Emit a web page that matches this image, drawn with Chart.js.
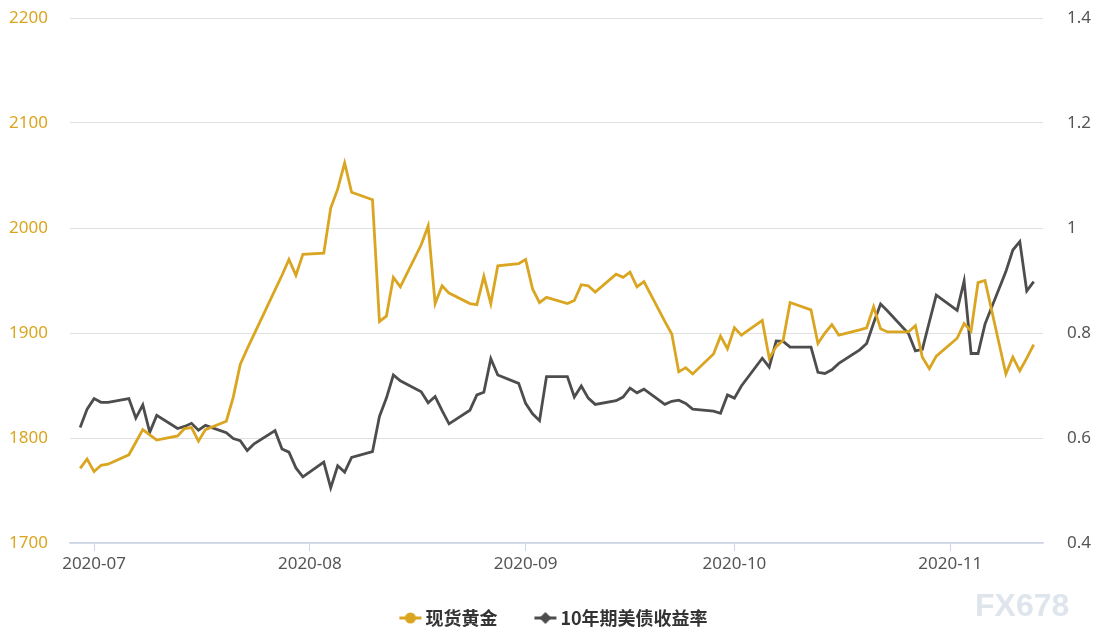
<!DOCTYPE html>
<html>
<head>
<meta charset="utf-8">
<script src="https://cdn.jsdelivr.net/npm/chart.js@4.4.0/dist/chart.umd.min.js"></script>
<style>
  html, body { margin: 0; padding: 0; background: #fff; }
  #wrap { width: 1102px; height: 640px; position: relative; }
</style>
</head>
<body>
<div id="wrap"><canvas id="chart" width="1102" height="640"></canvas></div>
<script>
// trading days, Jun 29 - Nov 13 2020
const dates = [
  '2020-06-29','2020-06-30',
  '2020-07-01','2020-07-02','2020-07-03','2020-07-06','2020-07-07','2020-07-08','2020-07-09','2020-07-10',
  '2020-07-13','2020-07-14','2020-07-15','2020-07-16','2020-07-17','2020-07-20','2020-07-21','2020-07-22',
  '2020-07-23','2020-07-24','2020-07-27','2020-07-28','2020-07-29','2020-07-30','2020-07-31',
  '2020-08-03','2020-08-04','2020-08-05','2020-08-06','2020-08-07','2020-08-10','2020-08-11','2020-08-12',
  '2020-08-13','2020-08-14','2020-08-17','2020-08-18','2020-08-19','2020-08-20','2020-08-21','2020-08-24',
  '2020-08-25','2020-08-26','2020-08-27','2020-08-28','2020-08-31',
  '2020-09-01','2020-09-02','2020-09-03','2020-09-04','2020-09-07','2020-09-08','2020-09-09','2020-09-10',
  '2020-09-11','2020-09-14','2020-09-15','2020-09-16','2020-09-17','2020-09-18','2020-09-21','2020-09-22',
  '2020-09-23','2020-09-24','2020-09-25','2020-09-28','2020-09-29','2020-09-30',
  '2020-10-01','2020-10-02','2020-10-05','2020-10-06','2020-10-07','2020-10-08','2020-10-09','2020-10-12',
  '2020-10-13','2020-10-14','2020-10-15','2020-10-16','2020-10-19','2020-10-20','2020-10-21','2020-10-22',
  '2020-10-23','2020-10-26','2020-10-27','2020-10-28','2020-10-29','2020-10-30',
  '2020-11-02','2020-11-03','2020-11-04','2020-11-05','2020-11-06','2020-11-09','2020-11-10','2020-11-11',
  '2020-11-12','2020-11-13'
];

// 现货黄金 (left axis)
const gold = [
  1771, 1780,
  1768, 1774, 1775, 1784, 1796, 1808, 1803, 1798,
  1802, 1809, 1810, 1797, 1808, 1816, 1839, 1870,
  1885, 1899, 1941, 1955, 1970, 1955, 1975,
  1976, 2019, 2037, 2062, 2034, 2027, 1911, 1916,
  1953, 1944, 1984, 2002, 1928, 1945, 1938, 1928,
  1927, 1954, 1928, 1964, 1966,
  1970, 1942, 1929, 1934, 1928, 1931, 1946, 1945,
  1939, 1956, 1953, 1958, 1944, 1949, 1911, 1899,
  1863, 1867, 1861, 1880, 1897, 1885,
  1905, 1898, 1912, 1876, 1887, 1893, 1929, 1922,
  1890, 1900, 1908, 1898, 1903, 1905, 1925, 1904,
  1901, 1901, 1907, 1877, 1866, 1878,
  1895, 1909, 1902, 1948, 1950, 1861, 1877, 1864,
  1876, 1889
];

// 10年期美债收益率 (right axis)
const yield10 = [
  0.620, 0.655,
  0.675, 0.668, 0.668, 0.675, 0.638, 0.663, 0.611, 0.643,
  0.618, 0.622, 0.628, 0.615, 0.624, 0.610, 0.599, 0.595,
  0.576, 0.589, 0.614, 0.579, 0.573, 0.543, 0.526,
  0.554, 0.505, 0.547, 0.535, 0.563, 0.574, 0.641, 0.676,
  0.720, 0.709, 0.688, 0.667, 0.679, 0.652, 0.627, 0.653,
  0.682, 0.687, 0.751, 0.720, 0.704,
  0.666, 0.646, 0.633, 0.717, 0.717, 0.678, 0.699, 0.676,
  0.664, 0.671, 0.678, 0.695, 0.686, 0.693, 0.664, 0.670,
  0.672, 0.666, 0.655, 0.651, 0.647, 0.682,
  0.676, 0.699, 0.752, 0.735, 0.785, 0.784, 0.773, 0.773,
  0.725, 0.723, 0.730, 0.742, 0.768, 0.780, 0.819, 0.855,
  0.842, 0.799, 0.766, 0.769, 0.821, 0.872,
  0.843, 0.899, 0.761, 0.761, 0.817, 0.917, 0.958, 0.974,
  0.880, 0.898
];

const monthTicks = ['2020-07-01','2020-08-01','2020-09-01','2020-10-01','2020-11-01'];
const xStart = Date.UTC(2020, 5, 27, 13);
const xEnd = Date.UTC(2020, 10, 14, 8);

const GOLD = '#DAA520';
const DARK = '#4D4D4D';

// line + marker like the original legend, shifted right inside a wider canvas
function legendIcon(color, shape) {
  const c = document.createElement('canvas');
  c.width = 44; c.height = 14;
  const g = c.getContext('2d');
  g.strokeStyle = color;
  g.lineWidth = 3;
  g.beginPath(); g.moveTo(16, 7); g.lineTo(38, 7); g.stroke();
  g.fillStyle = color;
  g.beginPath();
  if (shape === 'circle') {
    g.arc(27, 7, 5.5, 0, Math.PI * 2);
  } else {
    g.moveTo(27, 1); g.lineTo(33, 7); g.lineTo(27, 13); g.lineTo(21, 7); g.closePath();
  }
  g.fill();
  return c;
}
const icons = [legendIcon(GOLD, 'circle'), legendIcon(DARK, 'diamond')];

const watermark = {
  id: 'watermark',
  afterDraw(chart) {
    const ctx = chart.ctx;
    ctx.save();
    ctx.font = 'bold 32px "Liberation Sans", Arial, sans-serif';
    ctx.fillStyle = '#dfe5ec';
    ctx.textAlign = 'left';
    ctx.textBaseline = 'alphabetic';
    ctx.fillText('FX678', 975, 616);
    ctx.restore();
  }
};

const PLOT_BOTTOM = 543;

function noVPad(scale) {
  scale.paddingTop = 0;
  scale.paddingBottom = 0;
}

new Chart(document.getElementById('chart'), {
  type: 'line',
  data: {
    datasets: [
      {
        label: '现货黄金',
        data: dates.map((d, i) => ({ x: Date.parse(d), y: gold[i] })),
        borderColor: GOLD,
        backgroundColor: GOLD,
        borderWidth: 2.8,
        pointRadius: 0,
        tension: 0,
        yAxisID: 'y'
      },
      {
        label: '10年期美债收益率',
        data: dates.map((d, i) => ({ x: Date.parse(d), y: yield10[i] })),
        borderColor: DARK,
        backgroundColor: DARK,
        borderWidth: 2.8,
        pointRadius: 0,
        tension: 0,
        yAxisID: 'y1'
      }
    ]
  },
  options: {
    responsive: false,
    animation: false,
    layout: { padding: { top: 18, left: 0, right: 0, bottom: 3 } },
    plugins: {
      tooltip: { enabled: false },
      legend: {
        position: 'bottom',
        labels: {
          usePointStyle: true,
          pointStyleWidth: 22,
          boxHeight: 14,
          padding: 32,
          color: '#333',
          font: { family: '"Noto Sans CJK SC", "Noto Sans", sans-serif', size: 18, weight: 'bold' },
          generateLabels(chart) {
            return chart.data.datasets.map((ds, i) => ({
              text: ds.label,
              fillStyle: ds.borderColor,
              strokeStyle: ds.borderColor,
              fontColor: '#333',
              pointStyle: icons[i],
              datasetIndex: i,
              hidden: false
            }));
          }
        }
      }
    },
    scales: {
      x: {
        type: 'linear',
        min: xStart,
        max: xEnd,
        afterBuildTicks(scale) {
          scale.ticks = monthTicks.map(m => ({ value: Date.parse(m) }));
        },
        afterFit(scale) {
          const lg = scale.chart.legend ? scale.chart.legend.height : 0;
          scale.height = 640 - PLOT_BOTTOM - lg - 3;
        },
        grid: {
          drawOnChartArea: false,
          drawTicks: true,
          tickLength: 8,
          color: '#ccd6eb'
        },
        border: { color: '#ccd6eb', width: 1.5 },
        ticks: {
          color: '#555',
          font: { family: '"Noto Sans", sans-serif', size: 17 },
          padding: 3,
          maxRotation: 0,
          callback: v => new Date(v).toISOString().slice(0, 7)
        }
      },
      y: {
        position: 'left',
        min: 1700,
        max: 2200,
        afterFit(scale) { scale.width = 70; noVPad(scale); },
        ticks: {
          stepSize: 100,
          color: GOLD,
          padding: 22,
          font: { family: '"Noto Sans", sans-serif', size: 17 },
          callback: v => String(v)
        },
        grid: { color: '#e0e0e0', drawTicks: false },
        border: { display: false }
      },
      y1: {
        position: 'right',
        min: 0.4,
        max: 1.4,
        afterFit(scale) { scale.width = 59; noVPad(scale); },
        ticks: {
          stepSize: 0.2,
          color: '#555',
          padding: 24,
          font: { family: '"Noto Sans", sans-serif', size: 17 },
          callback: v => String(+v.toFixed(1))
        },
        grid: { drawOnChartArea: false, drawTicks: false },
        border: { display: false }
      }
    }
  },
  plugins: [watermark]
});
</script>
</body>
</html>
